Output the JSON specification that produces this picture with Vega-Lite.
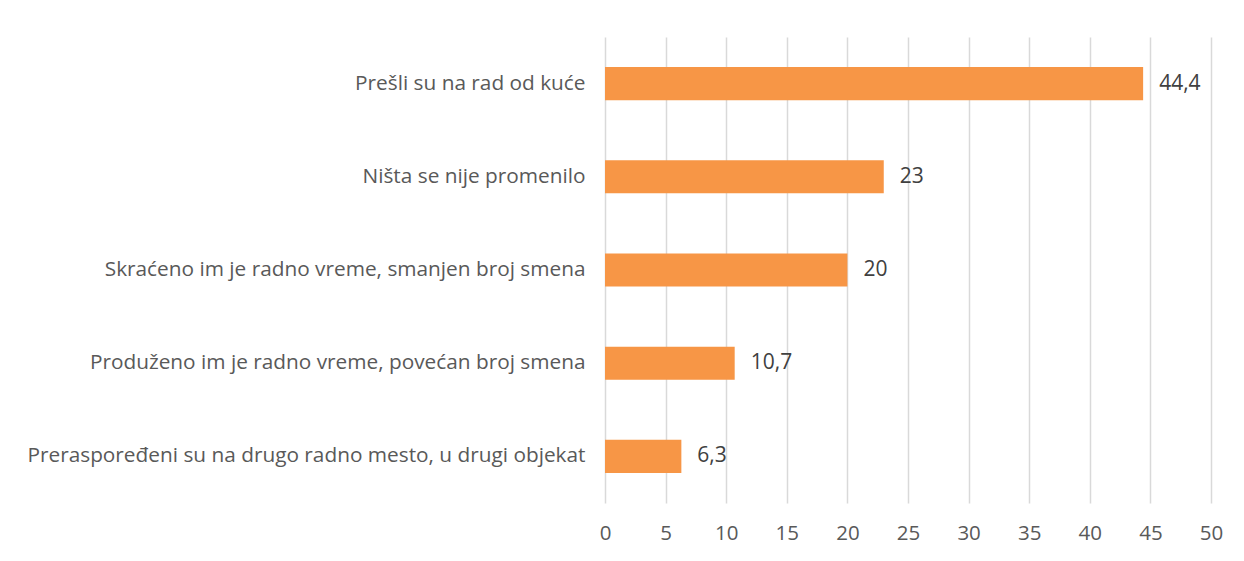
{
  "$schema": "https://vega.github.io/schema/vega-lite/v6.json",
  "width": 606,
  "height": 466,
  "autosize": "none",
  "padding": {"left": 605, "top": 37, "right": 33, "bottom": 58},
  "background": "white",
  "data": {"values": [
    {"kategorija": "Prešli su na rad od kuće", "procenat": 44.4, "oznaka": "44,4"},
    {"kategorija": "Ništa se nije promenilo", "procenat": 23, "oznaka": "23"},
    {"kategorija": "Skraćeno im je radno vreme, smanjen broj smena", "procenat": 20, "oznaka": "20"},
    {"kategorija": "Produženo im je radno vreme, povećan broj smena", "procenat": 10.7, "oznaka": "10,7"},
    {"kategorija": "Preraspoređeni su na drugo radno mesto, u drugi objekat", "procenat": 6.3, "oznaka": "6,3"}
  ]},
  "encoding": {
    "y": {"field": "kategorija", "type": "nominal", "sort": null,
      "scale": {"paddingInner": 0.645, "paddingOuter": 0.3225},
      "axis": {"title": null, "domain": false, "ticks": false, "labelPadding": 20, "labelFontSize": 20.8, "labelFont": "Open Sans", "labelColor": "#595959", "labelLimit": 700}},
    "x": {"field": "procenat", "type": "quantitative",
      "scale": {"domain": [0, 50], "nice": false},
      "axis": {"title": null, "domain": false, "ticks": false, "labelFlush": false, "values": [0,5,10,15,20,25,30,35,40,45,50], "labelPadding": 20, "labelFontSize": 20.5, "labelFont": "Open Sans", "labelColor": "#595959", "gridColor": "#D9D9D9", "gridWidth": 1.5}}
  },
  "layer": [
    {"mark": {"type": "bar", "color": "#F79646"}},
    {"mark": {"type": "text", "align": "left", "dx": 16, "fontSize": 21, "font": "Open Sans", "color": "#404040"},
     "encoding": {"text": {"field": "oznaka"}}}
  ],
  "config": {"view": {"stroke": null}, "axisY": {"grid": false}}
}
